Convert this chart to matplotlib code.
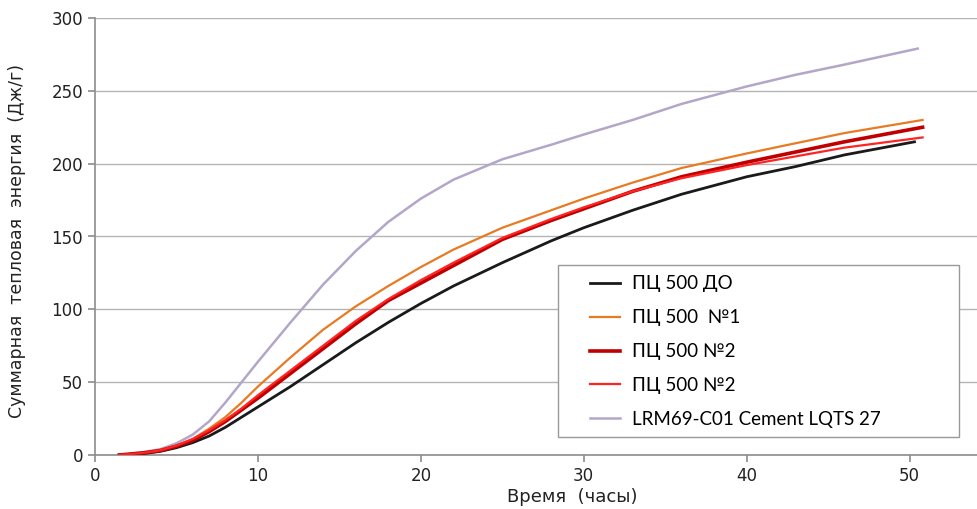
import matplotlib.pyplot as plt
from matplotlib.lines import Line2D
from matplotlib.patches import Rectangle

plt.rcParams['font.family'] = ['DejaVu Sans']

# time (hours) and cumulative heat (J/g)
t_main = [1.5, 3, 4, 5, 6, 7, 8, 9, 10, 12, 14, 16, 18, 20, 22, 25, 28, 30, 33, 36, 40, 43, 46]
t_end = 50.8

black = [0, 1, 2.5, 5, 8.5, 13, 19, 26, 33, 47, 62, 77, 91, 104, 116, 132, 147, 156, 168, 179, 191, 198, 206]
black_end = (50.3, 215)
orange = [0, 1.5, 3.5, 6.5, 11, 18, 26, 36, 47, 67, 86, 102, 116, 129, 141, 156, 168, 176, 187, 197, 207, 214, 221]
orange_end = 230
darkred = [0, 1.5, 3, 6, 10, 16, 23, 31, 39, 56, 73, 90, 106, 118, 130, 148, 161, 169, 181, 191, 201, 208, 215]
darkred_end = 225
red = [0, 1.5, 3.2, 6.5, 11, 17, 24, 32, 41, 58, 75, 92, 107, 120, 132, 149, 162, 170, 181, 190, 199, 205, 211]
red_end = 218
lrm = [0, 2, 4, 8, 14, 23, 36, 50, 64, 91, 117, 140, 160, 176, 189, 203, 213, 220, 230, 241, 253, 261, 268]
lrm_end = (50.5, 279)

labels = ['ПЦ 500 ДО', 'ПЦ 500  №1', 'ПЦ 500 №2', 'ПЦ 500 №2', 'LRM69-C01 Cement LQTS 27']
colors = ['#1a1a1a', '#e87a22', '#c00000', '#ff2424', '#b3a6c9']
widths = [2.0, 1.6, 2.6, 1.6, 1.8]

fig = plt.figure(figsize=(9.78, 5.09), dpi=100)
ax = fig.add_axes([95 / 978, 54 / 509, 883 / 978, 437 / 509])

ax.plot(t_main + [lrm_end[0]], lrm + [lrm_end[1]], color=colors[4], lw=widths[4], zorder=2)
ax.plot(t_main + [black_end[0]], black + [black_end[1]], color=colors[0], lw=widths[0], zorder=3)
ax.plot(t_main + [t_end], orange + [orange_end], color=colors[1], lw=widths[1], zorder=3)
ax.plot(t_main + [t_end], darkred + [darkred_end], color=colors[2], lw=widths[2], zorder=4)
ax.plot(t_main + [t_end], red + [red_end], color=colors[3], lw=widths[3], zorder=5)

ax.set_xlim(0, 54.2)
ax.set_ylim(0, 300)
ax.set_xticks([0, 10, 20, 30, 40, 50])
ax.set_yticks([0, 50, 100, 150, 200, 250, 300])
ax.yaxis.grid(True, color='#b4b4b4', lw=1)
ax.set_axisbelow(True)

for s in ['top', 'right']:
    ax.spines[s].set_visible(False)
for s in ['left', 'bottom']:
    ax.spines[s].set_color('#8c8c8c')
    ax.spines[s].set_linewidth(1.2)
ax.tick_params(axis='both', colors='#8c8c8c', length=5, width=1.2,
               labelsize=12, labelcolor='#222222')

ax.set_xlabel('Время  (часы)', fontsize=13, color='#222222')
ax.xaxis.set_label_coords(0.54, -0.075)
ax.set_ylabel('Суммарная  тепловая  энергия  (Дж/г)', fontsize=12.5, color='#222222')
ax.yaxis.set_label_coords(-0.078, 0.49)

# legend box drawn separately so the entries can sit further in from the left edge
ax.add_patch(Rectangle((0.524, 0.041), 0.455, 0.394, transform=ax.transAxes,
                       facecolor='white', edgecolor='#999999', lw=1, zorder=8))
handles = [Line2D([0], [0], color=c, lw=w) for c, w in zip(colors, widths)]
leg = ax.legend(handles, labels, loc='upper left', bbox_to_anchor=(0.5606, 0.411),
                frameon=False, prop={'family': ['Lato', 'DejaVu Sans'], 'size': 13.5},
                handlelength=1.6, handletextpad=0.64, labelspacing=0.9,
                borderpad=0, borderaxespad=0)
leg.set_zorder(9)

plt.savefig('out.png', dpi=100)
plt.close()
